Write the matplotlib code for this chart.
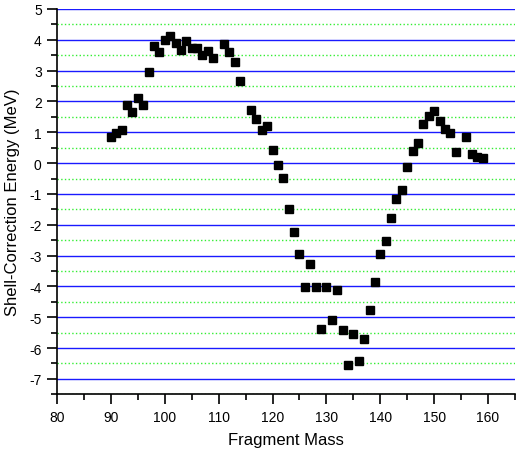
import numpy as np
import matplotlib
matplotlib.use('Agg')
import matplotlib.pyplot as plt
from matplotlib.ticker import MultipleLocator

plt.rcParams['font.family'] = ['Liberation Sans', 'DejaVu Sans']
plt.rcParams['axes.unicode_minus'] = False

# fragment mass vs shell-correction energy
mass = [90, 91, 92, 93, 94, 95, 96, 97, 98, 99, 100, 101, 102, 103, 104,
        105, 106, 107, 108, 109, 111, 112, 113, 114, 116, 117, 118, 119,
        120, 121, 122, 123, 124, 125, 126, 127, 128, 129, 130, 131, 132,
        133, 134, 135, 136, 137, 138, 139, 140, 141, 142, 143, 144, 145,
        146, 147, 148, 149, 150, 151, 152, 153, 154, 156, 157, 158, 159]
energy = [0.85, 0.97, 1.07, 1.89, 1.66, 2.12, 1.88, 2.96, 3.81, 3.61, 4.00,
          4.13, 3.91, 3.68, 3.96, 3.74, 3.74, 3.52, 3.64, 3.41, 3.86, 3.60,
          3.29, 2.67, 1.73, 1.44, 1.08, 1.21, 0.41, -0.07, -0.49, -1.48,
          -2.23, -2.94, -4.02, -3.26, -4.02, -5.37, -4.02, -5.08, -4.13,
          -5.42, -6.56, -5.55, -6.43, -5.72, -4.75, -3.86, -2.95, -2.52,
          -1.77, -1.16, -0.86, -0.11, 0.39, 0.65, 1.26, 1.52, 1.68, 1.37,
          1.10, 0.98, 0.36, 0.85, 0.30, 0.20, 0.16]

fig = plt.figure(figsize=(5.16, 4.52), dpi=100)
ax = fig.add_axes([0.1105, 0.1254, 0.8875, 0.8525])

ax.plot(mass, energy, 's', color='black', markersize=6.2, zorder=3)

ax.set_xlim(80, 165)
ax.set_ylim(-7.5, 5)
ax.xaxis.set_major_locator(MultipleLocator(10))
ax.xaxis.set_minor_locator(MultipleLocator(5))
ax.yaxis.set_major_locator(MultipleLocator(1))
ax.yaxis.set_minor_locator(MultipleLocator(0.5))

ax.grid(True, which='major', axis='y', color='#1a1aff', lw=1.0, ls='-')
ax.grid(True, which='minor', axis='y', color='#33ee33', lw=1.0, ls=':')
ax.set_axisbelow(True)

for s in ['top', 'right']:
    ax.spines[s].set_visible(False)
ax.spines['left'].set_linewidth(1.2)
ax.spines['bottom'].set_linewidth(1.2)
ax.tick_params(which='major', direction='out', length=7, width=1.2,
               labelsize=10, pad=4)
ax.tick_params(which='minor', direction='out', length=4, width=1.2)

ax.set_xlabel('Fragment Mass', fontsize=12, labelpad=6)
ax.set_ylabel('Shell-Correction Energy (MeV)', fontsize=12, labelpad=7)

fig.savefig('out.png', dpi=100)
